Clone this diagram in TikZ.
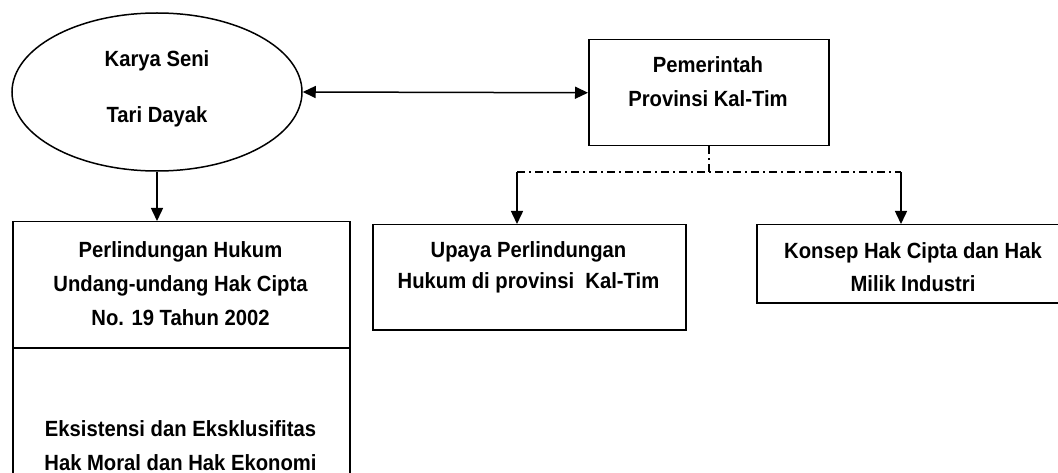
\documentclass[tikz,border=0pt]{standalone}
\usepackage{fontspec}
\setmainfont{Liberation Sans}[FakeStretch=0.92]
\usetikzlibrary{arrows.meta,shapes.geometric}

\tikzset{
  outline/.style={draw=black, line width=1.5pt},
  boxshape/.style={outline, rectangle, inner sep=0pt, anchor=north west},
  % anchor=base of a multi-line caption sits on its last line
  caption/.style={align=center, inner sep=0pt, anchor=base,
    font=\bfseries\fontsize{22}{34}\selectfont},
  arr/.style={line width=1.5pt, -{Triangle[length=13pt,width=12pt]}},
  arrboth/.style={line width=1.5pt, {Triangle[length=13pt,width=12pt]}-{Triangle[length=13pt,width=12pt]}},
  dashdot/.style={line width=1.5pt, dash pattern=on 8pt off 4pt on 2pt off 4pt}
}

\begin{document}
\begin{tikzpicture}[x=1pt, y=-1pt]
  \clip (0,0) rectangle (1058,473);
  \fill[white] (0,0) rectangle (1058,473);

  % artwork ellipse
  \node[outline, ellipse, minimum width=290pt, minimum height=158pt, inner sep=0pt]
    (art) at (157,92) {};
  \node[caption, font=\bfseries\fontsize{22}{56}\selectfont] (arttxt) at (157,123) {Karya Seni\\Tari Dayak};

  % provincial government
  \node[boxshape, minimum width=240pt, minimum height=106pt] (pem) at (588,39) {};
  \node[caption] (pemtxt) at (708,107) {Pemerintah\\Provinsi Kal-Tim};

  % legal protection (two stacked compartments)
  \node[boxshape, minimum width=337pt, minimum height=126pt] (law) at (12,221) {};
  \node[boxshape, minimum width=337pt, minimum height=200pt] (rights) at (12,347) {};
  \node[caption] (lawtxt) at (180.5,325) {Perlindungan Hukum\\Undang-undang Hak Cipta\\No. 19 Tahun 2002};
  \node[caption] (rightstxt) at (180.5,470) {Eksistensi dan Eksklusifitas\\Hak Moral dan Hak Ekonomi};

  % protection efforts
  \node[boxshape, minimum width=313pt, minimum height=105pt] (upaya) at (372,224) {};
  \node[caption, font=\bfseries\fontsize{22}{31}\selectfont] (upayatxt) at (528.5,288) {Upaya Perlindungan\\Hukum di provinsi\ \ Kal-Tim};

  % concepts
  \node[boxshape, minimum width=320pt, minimum height=78pt] (konsep) at (756,224) {};
  \node[caption, font=\bfseries\fontsize{22}{33}\selectfont] (konseptxt) at (913,291) {Konsep Hak Cipta dan Hak\\Milik Industri};

  % connectors
  \draw[arr] (art.south) -- (art.south |- law.north);
  \draw[arrboth] (art.east) -- (pem.west);

  \coordinate (split) at (709,172);
  \coordinate (leftturn) at (517,172);
  \coordinate (rightturn) at (901,172);
  \draw[dashdot] (pem.south -| split) -- (split);
  \draw[dashdot] (leftturn) -- (rightturn);
  \draw[arr] (leftturn) -- (leftturn |- upaya.north);
  \draw[arr] (rightturn) -- (rightturn |- konsep.north);
\end{tikzpicture}
\end{document}
